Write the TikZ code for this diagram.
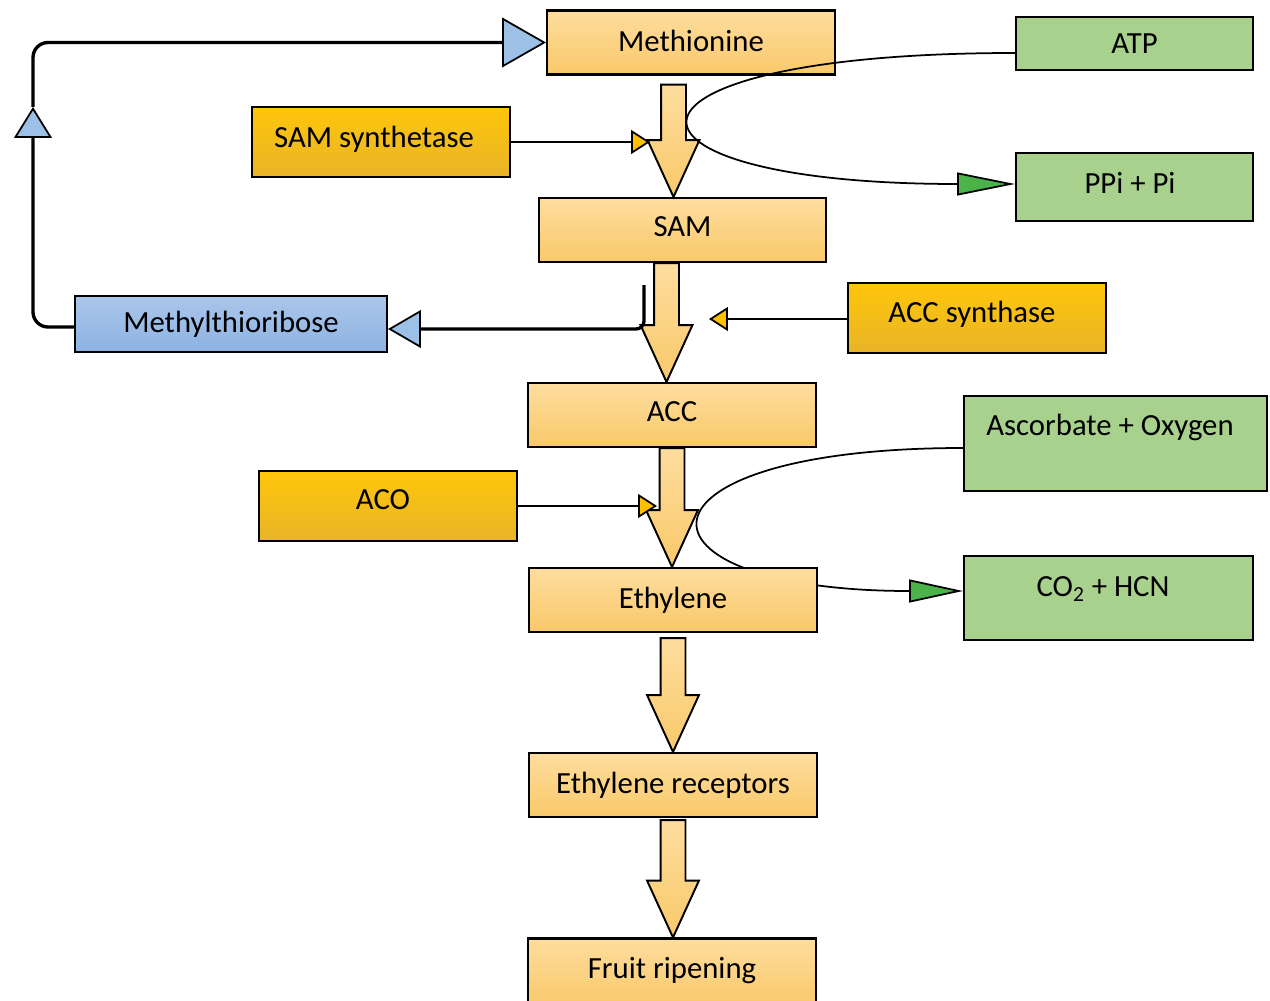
\documentclass[tikz,border=0pt]{standalone}
\usepackage{fontspec}
\setmainfont{Carlito}
\usetikzlibrary{arrows.meta,calc,backgrounds}
\definecolor{orTop}{HTML}{FEDD9E}
\definecolor{orBot}{HTML}{F9C96A}
\definecolor{gTop}{HTML}{FFC60A}
\definecolor{gBot}{HTML}{E8B428}
\definecolor{gTip}{HTML}{FFC000}
\definecolor{grn}{HTML}{A8D18D}
\definecolor{grnTip}{HTML}{4CB34A}
\definecolor{bTop}{HTML}{AAC6EA}
\definecolor{bBot}{HTML}{8DB3E2}
\definecolor{bTip}{HTML}{9DC0E6}
\newcommand\bigarrow[2]{%
  \path[draw=black, line width=1.1pt, top color=orTop, bottom color=orBot, line join=miter]
    let \p1=#1, \p2=#2 in
    (\x1-7.09pt,\y1) -- (\x1+7.09pt,\y1) -- (\x1+7.09pt,\y2+32.3pt) -- (\x1+14.74pt,\y2+32.3pt)
    -- (\x1,\y2) -- (\x1-14.74pt,\y2+32.3pt) -- (\x1-7.09pt,\y2+32.3pt) -- cycle;}
\newcommand\shifted[3]{\raisebox{#1}{#3}\kern#2\relax}
\begin{document}
\begin{tikzpicture}[x=0.02cm,y=-0.02cm, font=\fontsize{17.5}{21}\selectfont,
  box/.style={draw=black, line width=1.2pt, rectangle, inner sep=0pt},
  orbox/.style={box, top color=orTop, bottom color=orBot, minimum width=5.76cm, minimum height=1.28cm},
  goldbox/.style={box, top color=gTop, bottom color=gBot, minimum width=5.16cm, minimum height=1.4cm},
  greenbox/.style={box, fill=grn},
  bluebox/.style={box, top color=bTop, bottom color=bBot},
  thinline/.style={draw=black, line width=1pt},
  curveline/.style={draw=black, line width=1pt},
  loopline/.style={draw=black, line width=1.9pt, rounded corners=0.3cm},
  goldtip/.style={-{Triangle[length=10.8pt,width=13.6pt,fill=gTip]}},
  greentip/.style={-{Triangle[length=#1,width=13pt,fill=grnTip]}},
  bluetip/.style n args={2}{-{Triangle[length=#1,width=#2,fill=bTip,line width=1pt]}}
]
\useasboundingbox (0,0) rectangle (1270,1000);
\clip (0,0) rectangle (1270,1000);

% nodes
\node[orbox] (meth) at (691,42.5) {\shifted{0.06cm}{0cm}{Methionine}};
\node[greenbox, minimum width=4.74cm, minimum height=1.06cm] (atp) at (1134.5,43.5) {ATP};
\node[goldbox] (ss) at (381,142) {\shifted{0.2cm}{0.28cm}{SAM synthetase}};
\node[greenbox, minimum width=4.74cm, minimum height=1.36cm] (ppi) at (1134.5,187) {\shifted{0.16cm}{0.18cm}{PPi + Pi}};
\node[orbox, minimum width=5.74cm] (sam) at (682.5,230) {\shifted{0.12cm}{0cm}{SAM}};
\node[bluebox, minimum width=6.24cm, minimum height=1.12cm] (mta) at (231,324) {\shifted{-0.06cm}{0cm}{Methylthioribose}};
\node[goldbox] (accs) at (977,318) {\shifted{0.24cm}{0.2cm}{ACC synthase}};
\node[orbox] (acc) at (672,415) {\shifted{0.12cm}{0cm}{ACC}};
\node[greenbox, minimum width=6.06cm, minimum height=1.9cm] (asc) at (1115.5,443.5) {\shifted{0.74cm}{0.22cm}{Ascorbate + Oxygen}};
\node[goldbox] (aco) at (388,506) {\shifted{0.24cm}{0.2cm}{ACO}};
\node[orbox] (eth) at (673,600) {\shifted{0.08cm}{0cm}{Ethylene}};
\node[greenbox, minimum width=5.78cm, minimum height=1.68cm] (co2) at (1108.5,598) {\shifted{0.44cm}{0.22cm}{CO\textsubscript{2} + HCN}};
\node[orbox] (rec) at (673,785) {\shifted{0.08cm}{0cm}{Ethylene receptors}};
\node[orbox, minimum height=1.34cm] (fruit) at (672,972) {\shifted{0.16cm}{0cm}{Fruit ripening}};

% ascorbate curve behind the boxes
\begin{pgfonlayer}{background}
\draw[curveline, greentip=30.6pt] ($(asc.west)+(0,4.5)$) .. controls (617,448) and (617,591) .. ($(co2.west)+(0,-7)$);
\end{pgfonlayer}

% block arrows
\bigarrow{($(meth.south)+(-17.5,9)$)}{(sam.north)}
\bigarrow{($(sam.south)+(-16,0)$)}{(acc.north)}
\bigarrow{(acc.south)}{(eth.north)}
\bigarrow{($(eth.south)+(0,5)$)}{(rec.north)}
\bigarrow{($(rec.south)+(0,2)$)}{(fruit.north)}

% ATP curve
\draw[curveline, greentip=33pt] ($(atp.west)+(0,9.5)$) .. controls (587,53) and (587,184) .. ($(ppi.west)+(0,-3)$);

% enzyme connectors
\coordinate (ssend) at (650,142);
\coordinate (accsend) at (709,319);
\coordinate (acoend) at (657,506);
\draw[thinline, goldtip] (ss.east) -- (ssend);
\draw[thinline, goldtip] (accs.west |- accsend) -- (accsend);
\draw[thinline, goldtip] (aco.east) -- (acoend);

% methylthioribose cycle
\coordinate (mtastart) at (644,285);
\coordinate (loopmid) at (33,107);
\draw[loopline, rounded corners=0.16cm, bluetip={18.7pt}{21.5pt}] (mtastart) |- ($(mta.east)+(0,5)$);
\draw[loopline, bluetip={17.6pt}{21.5pt}] ($(mta.west)+(0,3)$) -| (loopmid);
\draw[loopline, bluetip={25pt}{28.3pt}] (loopmid) |- (meth.west);
\end{tikzpicture}
\end{document}
